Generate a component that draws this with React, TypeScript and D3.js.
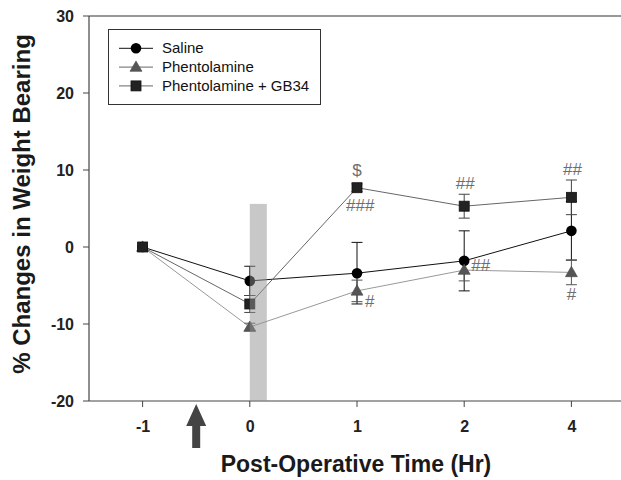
import React from "react";
import * as d3 from "d3";

const categories = ["-1", "0", "1", "2", "4"];
const yTicks = [-20, -10, 0, 10, 20, 30];
const salineValues = [0, -4.4, -3.4, -1.8, 2.1];
const salineErrors = [0, 1.9, 4.0, 3.9, 3.8];
const phentolamineValues = [0, -10.4, -5.7, -3.0, -3.3];
const phentolamineErrors = [0, 0.5, 1.4, 1.4, 1.6];
const gb34Values = [0, -7.4, 7.7, 5.3, 6.45];
const gb34Errors = [0, 1.1, 0.5, 1.55, 2.25];
const seriesNames = ["Saline", "Phentolamine", "Phentolamine + GB34"];
const shadeTop = 5.6;
const annotations = [
  { series: 2, cat: "1", text: "$", pos: "above" },
  { series: 2, cat: "1", text: "###", pos: "below" },
  { series: 2, cat: "2", text: "##", pos: "aboveErr" },
  { series: 2, cat: "4", text: "##", pos: "aboveErr" },
  { series: 1, cat: "2", text: "##", pos: "right" },
  { series: 1, cat: "1", text: "#", pos: "rightLow" },
  { series: 1, cat: "4", text: "#", pos: "belowPt" },
];

const W = 621;
const H = 480;
const FONT = "'Liberation Sans', Arial, sans-serif";

export default function App() {
  const x = d3.scalePoint<string>().domain(categories).range([89, 625]).padding(0.5);
  const y = d3.scaleLinear().domain([-20, 30]).range([401, 16]);

  const series = [
    { name: seriesNames[0], values: salineValues, errors: salineErrors, line: "#111", err: "#111", shape: "circle", fill: "#000" },
    { name: seriesNames[1], values: phentolamineValues, errors: phentolamineErrors, line: "#999", err: "#555", shape: "triangle", fill: "#555" },
    { name: seriesNames[2], values: gb34Values, errors: gb34Errors, line: "#666", err: "#444", shape: "square", fill: "#222" },
  ];

  const lineGen = d3
    .line<number>()
    .x((_, i) => x(categories[i]) as number)
    .y((d) => y(d));

  const marker = (shape: string, cx: number, cy: number, fill: string, key?: string) => {
    if (shape === "circle") return <circle key={key} cx={cx} cy={cy} r={5.3} fill={fill} />;
    if (shape === "square")
      return <rect key={key} x={cx - 5} y={cy - 5} width={10} height={10} fill={fill} stroke="#111" strokeWidth={0.8} />;
    const sym = d3.symbol().type(d3.symbolTriangle).size(62)();
    return <path key={key} d={sym as string} transform={`translate(${cx},${cy + 0.8})`} fill={fill} stroke="#444" strokeWidth={0.6} />;
  };

  const cap = 5.5;
  const x0 = x("0") as number;
  const arrowX = ((x("-1") as number) + x0) / 2;

  const annPos = (a: (typeof annotations)[number]) => {
    const s = series[a.series];
    const i = categories.indexOf(a.cat);
    const cx = x(a.cat) as number;
    const v = s.values[i];
    const e = s.errors[i];
    switch (a.pos) {
      case "above":
        return { x: cx, y: y(v) - 12, anchor: "middle" };
      case "below":
        return { x: cx - 11, y: y(v) + 23, anchor: "start" };
      case "aboveErr":
        return { x: cx + 1, y: y(v + e) - 5, anchor: "middle" };
      case "right":
        return { x: cx + 7, y: y(v) + 1, anchor: "start" };
      case "rightLow":
        return { x: cx + 8, y: y(v) + 16, anchor: "start" };
      default:
        return { x: cx, y: y(v) + 28, anchor: "middle" };
    }
  };

  return (
    <svg width={W} height={H} style={{ position: "absolute", left: 0, top: 0, background: "#fff" }} fontFamily={FONT}>
      <rect x={0} y={0} width={W} height={H} fill="#fff" />
      {/* frame */}
      <line x1={89} x2={W} y1={y(30)} y2={y(30)} stroke="#333" strokeWidth={1.2} />
      <line x1={89} x2={W} y1={y(-20)} y2={y(-20)} stroke="#444" strokeWidth={1.2} />
      <line x1={89} x2={89} y1={y(30)} y2={y(-20)} stroke="#444" strokeWidth={1.2} />
      {yTicks.map((t) => (
        <g key={t}>
          <line x1={83} x2={89} y1={y(t)} y2={y(t)} stroke="#444" strokeWidth={1} />
          <text x={74} y={y(t) + 5.5} textAnchor="end" fontSize={16} fontWeight="bold" fill="#222">
            {t}
          </text>
        </g>
      ))}
      {categories.map((c) => (
        <g key={c}>
          <line x1={x(c)} x2={x(c)} y1={y(-20)} y2={y(-20) + 6} stroke="#444" strokeWidth={1} />
          <text x={(x(c) as number) + 0.5} y={432} textAnchor="middle" fontSize={16} fontWeight="bold" fill="#222">
            {c}
          </text>
        </g>
      ))}
      {/* axis titles */}
      <text x={356} y={472} textAnchor="middle" fontSize={23} fontWeight="bold" fill="#1a1a1a">
        Post-Operative Time (Hr)
      </text>
      <text transform="translate(30,204) rotate(-90)" textAnchor="middle" fontSize={24} fontWeight="bold" fill="#1a1a1a">
        % Changes in Weight Bearing
      </text>
      {/* arrow */}
      <path
        d={`M${arrowX},404 L${arrowX + 10},426 L${arrowX + 4},426 L${arrowX + 4},448 L${arrowX - 4},448 L${arrowX - 4},426 L${arrowX - 10},426 Z`}
        fill="#444"
      />
      {/* lines */}
      {series.map((s) => (
        <path key={s.name} d={lineGen(s.values) as string} fill="none" stroke={s.line} strokeWidth={1} />
      ))}
      {/* error bars */}
      {series.map((s) =>
        s.values.map((v, i) => {
          const e = s.errors[i];
          if (!e) return null;
          const cx = x(categories[i]) as number;
          return (
            <g key={s.name + i} stroke={s.err} strokeWidth={1}>
              <line x1={cx} x2={cx} y1={y(v + e)} y2={y(v - e)} />
              <line x1={cx - cap} x2={cx + cap} y1={y(v + e)} y2={y(v + e)} />
              <line x1={cx - cap} x2={cx + cap} y1={y(v - e)} y2={y(v - e)} />
            </g>
          );
        })
      )}
      {/* markers */}
      {series.map((s) =>
        s.values.map((v, i) => marker(s.shape, x(categories[i]) as number, y(v), s.fill, s.name + "m" + i))
      )}
      {/* shaded bar */}
      <rect x={x0} y={y(shadeTop)} width={17} height={y(-20) - y(shadeTop)} fill="#919191" opacity={0.5} />
      {/* annotations */}
      {annotations.map((a, k) => {
        const p = annPos(a);
        return (
          <text key={k} x={p.x} y={p.y} textAnchor={p.anchor as any} fontSize={17} fill="#6e6e6e">
            {a.text}
          </text>
        );
      })}
      {/* legend */}
      <rect x={108.5} y={29.5} width={212} height={75} fill="#fff" stroke="#333" strokeWidth={1} />
      {series.map((s, i) => {
        const ly = 48.3 + i * 18.8;
        return (
          <g key={s.name + "leg"}>
            <line x1={119} x2={153} y1={ly} y2={ly} stroke={i === 0 ? "#111" : "#666"} strokeWidth={1} />
            {marker(s.shape, 136, ly, s.fill)}
            <text x={162} y={ly + 5} fontSize={15} fill="#111">
              {s.name}
            </text>
          </g>
        );
      })}
    </svg>
  );
}
